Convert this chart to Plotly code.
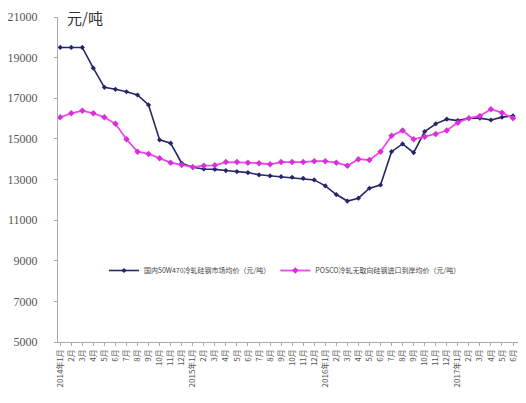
import plotly.graph_objects as go

months = []
for y in [2014, 2015, 2016, 2017]:
    for m in range(1, 13):
        if y == 2017 and m > 6:
            break
        months.append(f"{y}年{m}月" if m == 1 else f"{m}月")

domestic = [19500, 19500, 19500, 18480, 17540, 17440, 17320, 17160, 16670, 14950,
            14790, 13800, 13600, 13520, 13500, 13440, 13390, 13340, 13230, 13180,
            13140, 13110, 13060, 12980, 12690, 12260, 11940, 12080, 12570, 12730,
            14370, 14750, 14320, 15360, 15740, 15970, 15900, 16020, 16020, 15930,
            16070, 16130]
posco = [16060, 16260, 16390, 16260, 16060, 15740, 14980, 14370, 14260, 14050,
         13830, 13720, 13610, 13680, 13700, 13860, 13860, 13830, 13800, 13750,
         13860, 13860, 13860, 13900, 13900, 13830, 13680, 14000, 13960, 14370,
         15150, 15410, 14980, 15110, 15240, 15410, 15800, 16020, 16130, 16460,
         16290, 16020]

name1 = "国内50W470冷轧硅钢市场均价（元/吨）"
name2 = "POSCO冷轧无取向硅钢进口到岸均价（元/吨）"
y_ticks = [5000, 7000, 9000, 11000, 13000, 15000, 17000, 19000, 21000]

x = list(range(len(months)))

fig = go.Figure()
fig.add_trace(go.Scatter(
    x=x, y=domestic, name=name1, mode="lines+markers",
    line=dict(color="#25266a", width=1.6),
    marker=dict(symbol="diamond", size=4, color="#25266a"),
))
fig.add_trace(go.Scatter(
    x=x, y=posco, name=name2, mode="lines+markers",
    line=dict(color="#f044f0", width=1.8),
    marker=dict(symbol="diamond", size=5, color="#d82fd8"),
))

fig.update_layout(
    width=526, height=403,
    margin=dict(l=58, r=8, t=17, b=61),
    paper_bgcolor="white", plot_bgcolor="white",
    showlegend=True,
    legend=dict(orientation="h", x=0.1, y=0.22, xanchor="left", yanchor="middle",
                font=dict(size=7, color="#444", family="Noto Sans CJK SC"),
                bgcolor="rgba(0,0,0,0)", itemwidth=30, tracegroupgap=0),
)
fig.add_annotation(text="元/吨", xref="paper", yref="paper", x=0.015, y=1.0,
                   xanchor="left", yanchor="middle", showarrow=False,
                   font=dict(size=15, color="#333", family="Noto Sans CJK SC"))

fig.update_xaxes(
    range=[-0.2, 41.45], tickmode="array", tickvals=x, ticktext=months,
    tickangle=-90, tickfont=dict(size=8, color="#555", family="Noto Sans CJK SC"),
    showgrid=False, zeroline=False, showline=True, linecolor="#aaa", linewidth=1,
    ticks="outside", ticklen=3, tickcolor="#aaa", automargin=False,
)
fig.update_yaxes(
    range=[5000, 21000], tickmode="array", tickvals=y_ticks,
    ticktext=[str(v) for v in y_ticks],
    tickfont=dict(size=12, color="#555", family="Liberation Serif"),
    showgrid=False, zeroline=False, showline=True, linecolor="#aaa", linewidth=1,
    ticks="outside", ticklen=3, tickcolor="#aaa", ticklabelstandoff=14,
    automargin=False,
)

fig.write_html("out.html", config={"displayModeBar": False},
               post_script="document.body.style.margin='0';document.body.style.padding='0';")
